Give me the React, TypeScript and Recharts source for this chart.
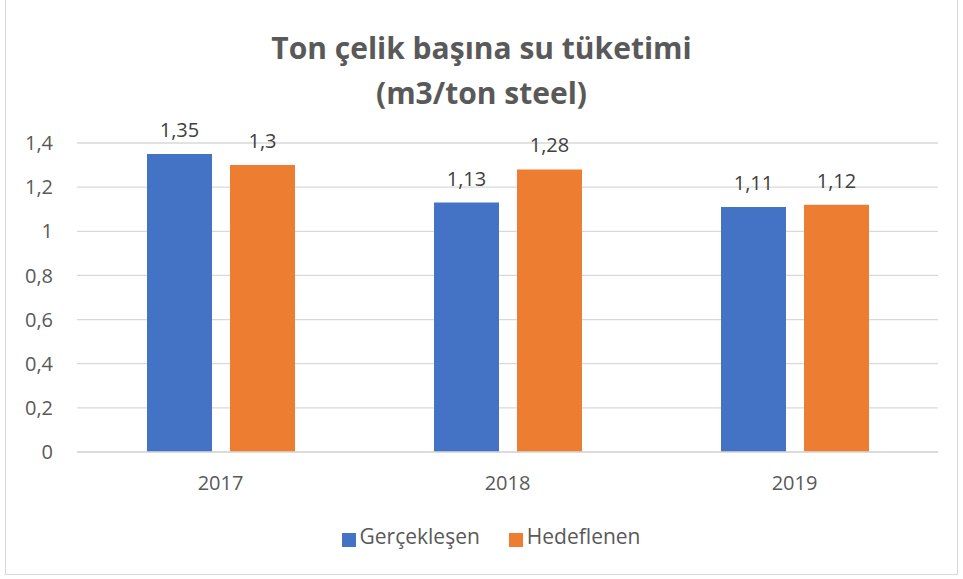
import React from 'react';
import { BarChart, Bar, XAxis, YAxis, CartesianGrid, Legend, LabelList } from 'recharts';

const years = ['2017', '2018', '2019'];
const gerceklesen = [1.35, 1.13, 1.11];
const hedeflenen = [1.3, 1.28, 1.12];
const yTicks = [0, 0.2, 0.4, 0.6, 0.8, 1, 1.2, 1.4];

const data = years.map((year, i) => ({
  year,
  gerceklesen: gerceklesen[i],
  hedeflenen: hedeflenen[i],
}));

const FONT = '"Open Sans", sans-serif';
const TEXT = '#595959';
const fmt = (v: any) => String(v).replace('.', ',');

const names: Record<string, string> = {
  gerceklesen: 'Gerçekleşen',
  hedeflenen: 'Hedeflenen',
};

export default function App() {
  return (
    <div style={{ position: 'absolute', left: 0, top: 0, width: 963, height: 579, background: '#fff', fontFamily: FONT }}>
      <div style={{ position: 'absolute', left: 5, top: -1, width: 951, height: 574, border: '1px solid #d9d9d9' }} />
      <div style={{ position: 'absolute', left: 0, top: 25, width: 963, textAlign: 'center', color: TEXT, fontSize: 30, fontWeight: 700, lineHeight: '45px' }}>
        Ton çelik başına su tüketimi
        <br />
        (m3/ton steel)
      </div>
      <BarChart
        width={963}
        height={579}
        data={data}
        margin={{ top: 143, right: 25, bottom: 87, left: 0 }}
        barCategoryGap={70}
        barGap={18}
        style={{ position: 'absolute', left: 0, top: 0 }}
      >
        <CartesianGrid vertical={false} stroke="#d9d9d9" strokeWidth={1.3} />
        <XAxis
          dataKey="year"
          height={40}
          tickLine={false}
          axisLine={{ stroke: '#d9d9d9', strokeWidth: 1.3 }}
          tickMargin={18}
          tick={{ fill: TEXT, fontSize: 20, fontFamily: FONT }}
        />
        <YAxis
          width={77}
          domain={[0, 1.4]}
          ticks={yTicks}
          tickLine={false}
          axisLine={false}
          tickMargin={18}
          tickFormatter={fmt}
          tick={{ fill: TEXT, fontSize: 20, fontFamily: FONT }}
        />
        <Legend
          verticalAlign="middle"
          align="center"
          layout="horizontal"
          iconType="square"
          iconSize={14}
          wrapperStyle={{ top: 522, left: 24, width: 963 }}
          formatter={(value: any) => (
            <span style={{ color: TEXT, fontSize: 21, fontFamily: FONT, marginRight: 19 }}>{names[value] ?? value}</span>
          )}
        />
        <Bar dataKey="gerceklesen" name="gerceklesen" fill="#4472C4" isAnimationActive={false}>
          <LabelList dataKey="gerceklesen" position="top" offset={17} formatter={fmt} fill="#404040" fontSize={20} fontFamily={FONT} />
        </Bar>
        <Bar dataKey="hedeflenen" name="hedeflenen" fill="#ED7D31" isAnimationActive={false}>
          <LabelList dataKey="hedeflenen" position="top" offset={17} formatter={fmt} fill="#404040" fontSize={20} fontFamily={FONT} />
        </Bar>
      </BarChart>
    </div>
  );
}
